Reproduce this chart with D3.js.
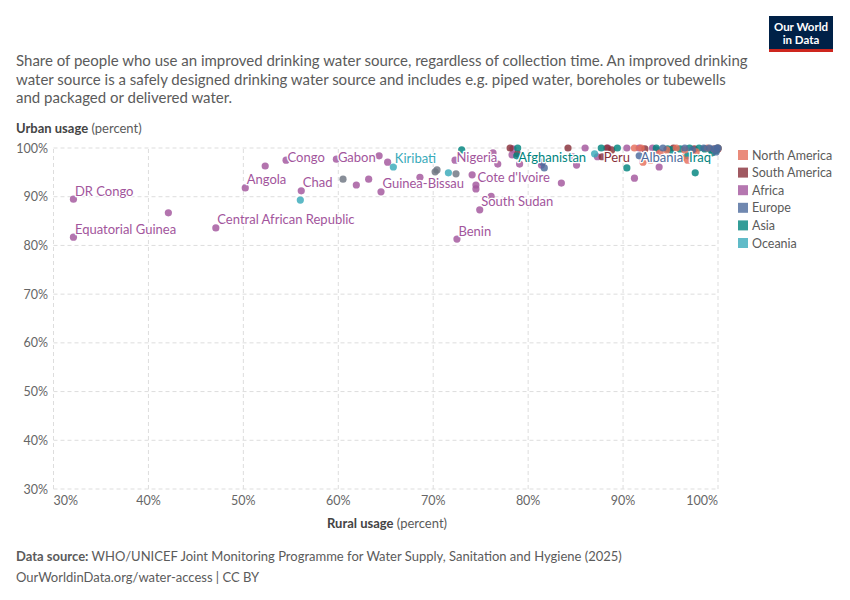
<!DOCTYPE html>
<html>
<head>
<meta charset="utf-8">
<script src="https://cdn.jsdelivr.net/npm/d3@7"></script>
<style>
  body { margin: 0; background: #fff; font-family: Lato, "Noto Sans", sans-serif; }
  svg text { font-family: Lato, "Noto Sans", sans-serif; }
</style>
</head>
<body>
<div id="chart"></div>
<script>
// values (percent)
const continents = ["North America", "South America", "Africa", "Europe", "Asia", "Oceania"];
const continentColors = ["#e56e5a", "#883039", "#a2559c", "#4c6a9c", "#00847e", "#38aaba"];

const otherRural = [60.5, 70.2, 70.4, 72.4];
const otherUrban = [93.6, 95.1, 95.5, 94.7];

const africaNames = ["DR Congo", "Equatorial Guinea", "", "Central African Republic", "Angola", "", "Congo", "Chad",
  "Gabon", "", "", "", "", "Guinea-Bissau", "", "Nigeria", "", "Cote d'Ivoire", "", "", "South Sudan", "Benin",
  "", "", "", "", "", "", "", "", "", "", "", "", "", "", "", "", "", ""];
const africaRural = [32.1, 32.1, 42.1, 47.1, 50.2, 52.3, 54.5, 56.1, 59.8, 64.3, 65.2, 61.9, 63.2, 64.5, 68.6, 72.3,
  74.1, 74.5, 74.5, 76.1, 74.9, 72.5, 76.3, 76.8, 78.4, 78.3, 79.1, 81.4, 83.5, 84.7, 85.1, 86.0, 87.3, 88.4, 90.4,
  91.2, 93.8, 91.7, 93.1, 93.5];
const africaUrban = [89.5, 81.7, 86.7, 83.6, 91.8, 96.3, 97.5, 91.2, 97.7, 98.4, 97.1, 92.4, 93.6, 91.0, 94.0, 97.5,
  94.5, 92.4, 91.6, 90.1, 87.3, 81.3, 99.0, 96.7, 99.8, 98.6, 96.7, 96.5, 92.8, 98.2, 96.5, 100, 98.2, 100, 100,
  93.8, 96.1, 100, 100, 99.6];

const oceaniaNames = ["", "Kiribati", "", ""];
const oceaniaRural = [56.0, 65.8, 71.6, 87.0];
const oceaniaUrban = [89.3, 96.1, 94.9, 98.8];

const asiaNames = ["", "", "Afghanistan", "", "", "", "", "", "", "Iraq", "", "", "", "", "", "", "", "", ""];
const asiaRural = [73.0, 78.9, 78.8, 87.7, 89.4, 90.4, 96.0, 97.0, 98.6, 96.8, 97.6, 99.4, 95.1, 99.8, 100, 98.0, 99.2, 93.5, 94.7];
const asiaUrban = [99.6, 100, 98.4, 100, 100, 95.9, 99.8, 100, 99.8, 98.4, 94.9, 99.0, 99.6, 99.5, 100, 100, 99.7, 100, 99.8];

const europeNames = ["", "", "Albania", "", "", "", "", "", "", "", "", ""];
const europeRural = [81.5, 81.7, 91.7, 94.2, 99.1, 99.6, 99.9, 98.5, 97.3, 100, 99.8, 96.5];
const europeUrban = [97.1, 95.9, 98.4, 100, 100, 99.8, 100, 100, 99.6, 100, 99.2, 100];

const northAmericaRural = [91.2, 92.1, 92.9, 95.6, 96.5, 96.8, 99.6, 93.9, 97.7, 91.9, 98.9, 100, 94.6, 96.2];
const northAmericaUrban = [100, 97.1, 97.5, 100, 99.6, 97.5, 99.8, 99.0, 99.2, 100, 100, 100, 99.6, 98.0];

const southAmericaNames = ["", "", "", "", "Peru", "", "", "", "", ""];
const southAmericaRural = [78.1, 78.9, 84.2, 88.3, 87.8, 88.8, 92.3, 97.5, 100, 95.3];
const southAmericaUrban = [100, 98.8, 100, 100, 98.2, 99.6, 99.8, 99.8, 99.8, 100];

const xTicks = [30, 40, 50, 60, 70, 80, 90, 100];
const yTicks = [30, 40, 50, 60, 70, 80, 90, 100];

const subtitleLines = [
  "Share of people who use an improved drinking water source, regardless of collection time. An improved drinking",
  "water source is a safely designed drinking water source and includes e.g. piped water, boreholes or tubewells",
  "and packaged or delivered water."
];

function rows(continent, rural, urban, names) {
  return rural.map((r, i) => ({ continent, rural: r, urban: urban[i], name: names ? names[i] : "" }));
}

const points = [].concat(
  rows(null, otherRural, otherUrban),
  rows("Africa", africaRural, africaUrban, africaNames),
  rows("Oceania", oceaniaRural, oceaniaUrban, oceaniaNames),
  rows("South America", southAmericaRural, southAmericaUrban, southAmericaNames),
  rows("Asia", asiaRural, asiaUrban, asiaNames),
  rows("North America", northAmericaRural, northAmericaUrban),
  rows("Europe", europeRural, europeUrban, europeNames)
);

const width = 850, height = 600;
const grey = "#5b5b5b";

const svg = d3.select("#chart").append("svg")
  .attr("width", width)
  .attr("height", height);

const color = d3.scaleOrdinal().domain(continents).range(continentColors).unknown("#6e7581");

const x = d3.scaleLinear().domain([30, 100]).range([53.5, 718]);
const y = d3.scaleLinear().domain([30, 100]).range([489, 148]);

// logo
const logo = svg.append("g").attr("transform", "translate(769,16)");
logo.append("rect").attr("width", 64).attr("height", 36).attr("fill", "#002147");
logo.append("rect").attr("y", 33).attr("width", 64).attr("height", 3).attr("fill", "#ce261e");
logo.append("text").attr("x", 32).attr("y", 15).attr("text-anchor", "middle")
  .attr("fill", "#fff").style("font-size", "11.5px").style("font-weight", 700).text("Our World");
logo.append("text").attr("x", 32).attr("y", 28).attr("text-anchor", "middle")
  .attr("fill", "#fff").style("font-size", "11.5px").style("font-weight", 700).text("in Data");

// subtitle
svg.selectAll(".subtitle")
  .data(subtitleLines)
  .enter()
  .append("text")
  .attr("class", "subtitle")
  .attr("x", 16)
  .attr("y", (d, i) => 66 + i * 18.5)
  .attr("fill", grey)
  .style("font-size", "15px")
  .text(d => d);

// y axis title
const yTitle = svg.append("text").attr("x", 16).attr("y", 133).attr("fill", "#444").style("font-size", "13px");
yTitle.append("tspan").style("font-weight", 700).text("Urban usage");
yTitle.append("tspan").attr("fill", grey).text(" (percent)");

// grid
svg.selectAll(".ygrid")
  .data(yTicks)
  .enter()
  .append("line")
  .attr("x1", x(30)).attr("x2", x(100))
  .attr("y1", d => y(d)).attr("y2", d => y(d))
  .attr("stroke", "#ddd").attr("stroke-dasharray", "4,3");

svg.selectAll(".xgrid")
  .data(xTicks)
  .enter()
  .append("line")
  .attr("x1", d => x(d)).attr("x2", d => x(d))
  .attr("y1", y(30)).attr("y2", y(100))
  .attr("stroke", "#ddd").attr("stroke-dasharray", "4,3");

svg.selectAll(".ylab")
  .data(yTicks)
  .enter()
  .append("text")
  .attr("x", 48)
  .attr("y", d => y(d) + 4.5)
  .attr("text-anchor", "end")
  .attr("fill", "#666")
  .style("font-size", "12.5px")
  .text(d => d + "%");

svg.selectAll(".xlab")
  .data(xTicks)
  .enter()
  .append("text")
  .attr("x", d => x(d))
  .attr("y", 505)
  .attr("text-anchor", (d, i) => i === 0 ? "start" : (i === xTicks.length - 1 ? "end" : "middle"))
  .attr("fill", "#666")
  .style("font-size", "12.5px")
  .text(d => d + "%");

const xTitle = svg.append("text").attr("x", 387).attr("y", 528).attr("text-anchor", "middle")
  .attr("fill", "#444").style("font-size", "13px");
xTitle.append("tspan").style("font-weight", 700).text("Rural usage");
xTitle.append("tspan").attr("fill", grey).text(" (percent)");

// points
svg.append("g")
  .selectAll("circle")
  .data(points)
  .enter()
  .append("circle")
  .attr("cx", d => x(d.rural))
  .attr("cy", d => y(d.urban))
  .attr("r", 3.6)
  .attr("fill", d => color(d.continent))
  .attr("fill-opacity", 0.82);

// labels
svg.append("g")
  .selectAll("text")
  .data(points.filter(d => d.name))
  .enter()
  .append("text")
  .attr("x", d => x(d.rural) + 1.5)
  .attr("y", d => Math.max(y(d.urban) - 8, 157) + 4.5)
  .attr("fill", d => color(d.continent))
  .attr("stroke", "#fff")
  .attr("stroke-width", 2.5)
  .attr("stroke-linejoin", "round")
  .style("paint-order", "stroke")
  .style("font-size", "13px")
  .text(d => d.name);

// legend
const legend = svg.append("g").attr("transform", "translate(738,150)");
const item = legend.selectAll("g")
  .data(continents)
  .enter()
  .append("g")
  .attr("transform", (d, i) => `translate(0, ${i * 17.6})`);
item.append("rect")
  .attr("width", 10).attr("height", 10)
  .attr("fill", d => color(d))
  .attr("fill-opacity", 0.8);
item.append("text")
  .attr("x", 14).attr("y", 9.5)
  .attr("fill", grey)
  .style("font-size", "12.5px")
  .text(d => d);

// footer
const source = svg.append("text").attr("x", 16).attr("y", 561).attr("fill", grey).style("font-size", "13px");
source.append("tspan").style("font-weight", 700).text("Data source:");
source.append("tspan").text(" WHO/UNICEF Joint Monitoring Programme for Water Supply, Sanitation and Hygiene (2025)");

svg.append("text").attr("x", 16).attr("y", 582).attr("fill", grey).style("font-size", "13px")
  .text("OurWorldinData.org/water-access | CC BY");
</script>
</body>
</html>
